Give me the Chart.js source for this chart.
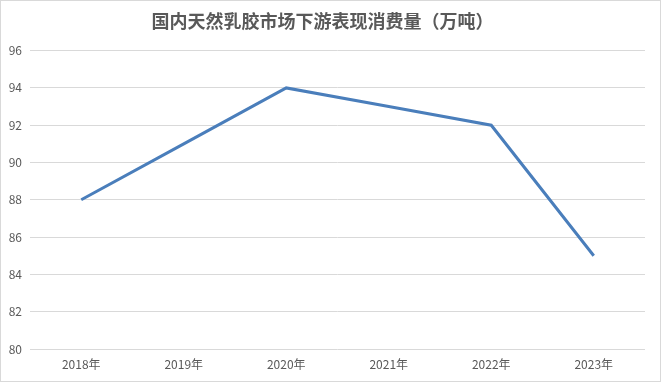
<!DOCTYPE html>
<html>
<head>
<meta charset="utf-8">
<script src="https://cdn.jsdelivr.net/npm/chart.js@4/dist/chart.umd.min.js"></script>
<style>
  html, body { margin: 0; padding: 0; background: #fff; }
  #wrap { width: 661px; height: 382px; position: relative; }
</style>
</head>
<body>
<div id="wrap"><canvas id="c" width="661" height="382"></canvas></div>
<script>
  // values
  const years = ["2018年", "2019年", "2020年", "2021年", "2022年", "2023年"];
  const consumption = [88, 91, 94, 93, 92, 85];
  const yMin = 80;
  const yMax = 96;
  const yStep = 2;
  const titleText = "国内天然乳胶市场下游表现消费量（万吨）";

  const FONT = "'Noto Sans CJK SC', 'Liberation Sans', sans-serif";

  // white background + light frame like the spreadsheet chart border
  const frame = {
    id: "frame",
    beforeDraw(chart) {
      const ctx = chart.ctx;
      ctx.save();
      ctx.fillStyle = "#ffffff";
      ctx.fillRect(0, 0, chart.width, chart.height);
      ctx.strokeStyle = "#d9d9d9";
      ctx.lineWidth = 1;
      ctx.strokeRect(0.5, 0.5, chart.width - 1, chart.height - 1);
      ctx.restore();
    },
  };

  new Chart(document.getElementById("c"), {
    type: "line",
    data: {
      labels: years,
      datasets: [
        {
          data: consumption,
          borderColor: "#4a7ebb",
          borderWidth: 3,
          pointRadius: 0,
          tension: 0,
        },
      ],
    },
    options: {
      responsive: false,
      animation: false,
      layout: { padding: { left: 0, right: 16, top: 0, bottom: 0 } },
      plugins: {
        legend: { display: false },
        tooltip: { enabled: false },
        title: {
          display: true,
          text: titleText,
          color: "#595959",
          font: { family: FONT, size: 18, weight: "bold" },
          padding: { top: 10, bottom: 19 },
        },
      },
      scales: {
        x: {
          offset: true,
          grid: { display: false, drawTicks: false },
          border: { display: false },
          ticks: { color: "#595959", font: { family: FONT, size: 12 }, padding: 8 },
          afterFit(s) { s.height = 33; },
        },
        y: {
          min: yMin,
          max: yMax,
          ticks: { stepSize: yStep, color: "#595959", font: { family: FONT, size: 12 }, padding: 8 },
          grid: { color: "#d9d9d9", drawTicks: false },
          border: { display: false },
          afterFit(s) { s.width = 30; },
        },
      },
    },
    plugins: [frame],
  });
</script>
</body>
</html>
